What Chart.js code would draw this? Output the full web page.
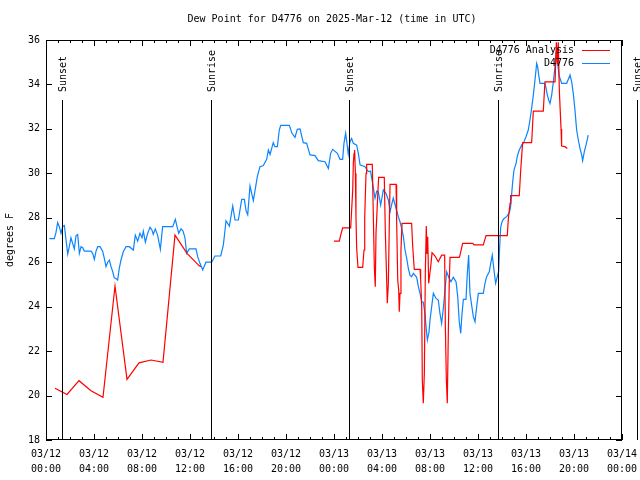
<!DOCTYPE html>
<html>
<head>
<meta charset="utf-8">
<title>Dew Point D4776</title>
<script src="https://cdn.jsdelivr.net/npm/chart.js@4.4.1/dist/chart.umd.min.js"></script>
<style>
  html, body { margin: 0; padding: 0; background: #fff; }
  #wrap { width: 640px; height: 480px; }
</style>
</head>
<body>
<div id="wrap"><canvas id="dewGraph" width="640" height="480"></canvas></div>
<script>
// time is hours since 03/12 00:00 UTC

// D4776 observations
var obsHours = [0.28, 0.69, 0.83, 0.97, 1.11, 1.25, 1.39, 1.53, 1.67, 1.81, 1.94, 2.08, 2.22, 2.36, 2.5, 2.64, 2.78, 2.92, 3.06, 3.19,
    3.75, 3.89, 4.03, 4.17, 4.31, 4.5, 4.72, 4.86, 5.0, 5.14, 5.28, 5.42, 5.56, 5.69, 5.83, 5.97, 6.11, 6.25, 6.44, 6.67,
    6.94, 7.28, 7.44, 7.64, 7.83, 8.0, 8.11, 8.28, 8.47, 8.67, 8.83, 8.94, 9.11, 9.31, 9.53, 9.72, 10.56, 10.78, 10.92, 11.06,
    11.25, 11.42, 11.58, 11.72, 11.94, 12.5, 12.64, 12.83, 13.06, 13.33, 13.81, 14.08, 14.56, 14.78, 14.92, 15.0, 15.28, 15.56, 15.75, 16.03,
    16.31, 16.53, 16.67, 16.81, 17.0, 17.28, 17.61, 17.83, 18.11, 18.39, 18.53, 18.67, 18.94, 19.08, 19.28, 19.44, 19.56, 20.28, 20.5, 20.75,
    20.94, 21.17, 21.44, 21.72, 22.0, 22.42, 22.69, 23.25, 23.53, 23.72, 23.89, 24.28, 24.5, 24.72, 24.83, 24.97, 25.08, 25.19, 25.33, 25.47,
    25.61, 25.89, 26.03, 26.17, 26.58, 26.86, 27.04, 27.22, 27.42, 27.56, 27.69, 27.89, 28.11, 28.33, 28.53, 28.67, 28.81, 28.94, 29.17, 29.36,
    29.5, 29.64, 29.78, 29.92, 30.06, 30.19, 30.33, 30.47, 30.61, 30.89, 31.03, 31.17, 31.31, 31.44, 31.58, 31.67, 31.78, 31.92, 32.0, 32.14,
    32.28, 32.5, 32.69, 32.83, 32.97, 33.11, 33.25, 33.39, 33.58, 33.75, 33.94, 34.17, 34.31, 34.44, 34.56, 34.67, 34.78, 35.0, 35.11, 35.22,
    35.33, 35.47, 35.61, 35.75, 35.89, 36.03, 36.44, 36.58, 36.72, 36.94, 37.06, 37.19, 37.33, 37.47, 37.61, 37.72, 37.78, 37.89, 38.0, 38.17,
    38.39, 38.61, 38.72, 38.81, 38.89, 39.0, 39.17, 39.28, 39.44, 39.64, 39.83, 40.0, 40.19, 40.33, 40.47, 40.61, 40.75, 40.89, 40.97, 41.08,
    41.17, 41.58, 41.67, 41.78, 41.89, 42.0, 42.14, 42.28, 42.42, 42.5, 42.61, 42.75, 42.97, 43.39, 43.53, 43.67, 43.81, 43.94, 44.08, 44.22,
    44.36, 44.5, 44.64, 44.72, 44.86, 45.0, 45.19];
var obsValues = [27.06, 27.06, 27.33, 27.78, 27.6, 27.3, 27.6, 27.65, 27.0, 26.37, 26.7, 27.1, 26.85, 26.6, 27.2, 27.25, 26.4, 26.7, 26.65, 26.5,
    26.5, 26.4, 26.13, 26.5, 26.7, 26.7, 26.5, 26.17, 25.8, 26.0, 26.1, 25.8, 25.57, 25.3, 25.27, 25.2, 25.73, 26.1, 26.47, 26.7,
    26.7, 26.55, 27.22, 26.95, 27.3, 27.1, 27.4, 26.9, 27.3, 27.57, 27.45, 27.25, 27.5, 27.2, 26.58, 27.6, 27.6, 27.93, 27.6, 27.3,
    27.5, 27.4, 27.1, 26.4, 26.6, 26.6, 26.25, 25.95, 25.65, 26.0, 26.0, 26.28, 26.28, 26.78, 27.45, 27.87, 27.63, 28.53, 27.9, 27.9,
    28.83, 28.83, 28.32, 28.14, 29.43, 28.77, 29.85, 30.3, 30.35, 30.63, 31.05, 30.85, 31.38, 31.2, 31.2, 31.95, 32.16, 32.16, 31.8, 31.62,
    31.98, 32.0, 31.38, 31.35, 30.83, 30.8, 30.57, 30.52, 30.22, 30.9, 31.08, 30.9, 30.63, 30.63, 31.35, 31.8, 31.35, 30.87, 31.42, 31.57,
    31.35, 31.27, 30.9, 30.38, 30.3, 30.08, 30.1, 29.55, 28.88, 29.2, 29.17, 28.57, 29.25, 29.1, 28.8, 28.27, 28.6, 28.88, 28.43, 28.05,
    27.82, 27.52, 27.15, 26.55, 26.17, 25.73, 25.42, 25.35, 25.5, 25.32, 24.9, 24.6, 24.22, 24.2, 23.7, 23.1, 22.5, 22.87, 23.4, 24.0,
    24.6, 24.37, 24.3, 23.7, 23.25, 23.92, 24.75, 25.57, 25.3, 25.12, 25.32, 25.12, 24.45, 23.32, 22.8, 23.7, 24.33, 24.33, 25.5, 26.32,
    24.6, 24.07, 23.55, 23.32, 24.0, 24.6, 24.6, 25.05, 25.35, 25.57, 25.95, 26.32, 25.65, 25.05, 25.35, 25.57, 26.4, 27.57, 27.82, 27.97,
    28.05, 28.23, 28.5, 29.1, 29.62, 30.15, 30.45, 30.78, 31.05, 31.27, 31.42, 31.65, 31.95, 32.4, 32.92, 33.52, 34.2, 34.95, 34.8, 34.35,
    34.05, 34.05, 33.83, 33.52, 33.3, 33.15, 33.52, 34.12, 34.8, 35.33, 35.1, 34.42, 34.05, 34.05, 34.23, 34.42, 34.1, 33.6, 32.85, 31.95,
    31.5, 31.12, 30.83, 30.57, 30.98, 31.27, 31.72];

// D4776 Analysis (null = no analysis)
var anlHours = [0.75, 1.75, 2.75, 3.75, 4.75, 5.75, 6.75, 7.75, 8.75, 9.75, 10.75, 11.75, 12.75, 12.9,
    18,
    24.0, 24.44, 24.56, 24.72, 25.39, 25.47, 25.56, 25.61, 25.67, 25.72, 25.78, 25.83, 25.89, 26.0, 26.39, 26.5, 26.56, 26.67, 26.72, 27.19,
    27.28, 27.36, 27.44, 27.5, 27.64, 27.72, 28.19, 28.28, 28.39, 28.44, 28.53, 28.61, 28.67, 29.17, 29.22, 29.31, 29.39, 29.44, 29.5, 29.58,
    29.67, 30.47, 30.56, 30.69, 31.17, 31.22, 31.31, 31.36, 31.44, 31.53, 31.61, 31.69, 31.75, 31.81, 31.89, 31.97, 32.06, 32.17, 32.42, 32.69,
    32.97, 33.22, 33.28, 33.36, 33.44, 33.53, 33.61, 33.67, 34.44, 34.5, 34.72, 35.56, 35.67, 36.44, 36.67, 38.44, 38.53, 38.67, 38.72, 39.44,
    39.56, 39.72, 40.47, 40.61, 41.44, 41.58, 42.42, 42.53, 42.61, 42.69, 42.78, 42.92, 42.97, 43.25, 43.44];
var anlValues = [20.33, 20.05, 20.67, 20.22, 19.92, 24.93, 20.73, 21.47, 21.6, 21.5, 27.22, 26.4, 25.85, 25.8,
    null,
    26.95, 26.95, 27.22, 27.55, 27.55, 28.35, 29.25, 30.45, 30.9, 31.05, 30.0, 28.05, 26.62, 25.77, 25.77, 26.55, 28.05, 30.0, 30.4, 30.4,
    28.05, 25.8, 24.9, 27.3, 28.95, 29.82, 29.82, 27.3, 25.2, 24.15, 25.05, 27.75, 29.5, 29.5, 27.9, 25.2, 24.75, 23.77, 24.6, 26.55,
    27.75, 27.75, 26.7, 25.68, 25.68, 25.23, 24.0, 20.7, 19.65, 21.0, 25.5, 27.63, 26.4, 27.15, 25.05, 25.42, 25.8, 26.43, 26.28, 26.02,
    26.32, 26.32, 23.1, 20.77, 19.65, 22.95, 25.2, 26.22, 26.22, 26.32, 26.85, 26.85, 26.78, 26.78, 27.2, 27.2, 27.97, 28.65, 29.0, 29.0,
    30.15, 31.38, 31.38, 32.8, 32.8, 34.12, 34.12, 35.9, 34.9, 35.9, 33.7, 32.0, 31.23, 31.2, 31.12];

// sunrise / sunset markers
var sunHours = [1.33, 13.75, 25.25, 37.67, 49.27];
var sunLabels = ['Sunset', 'Sunrise', 'Sunset', 'Sunrise', 'Sunset'];

var yTicks = [18, 20, 22, 24, 26, 28, 30, 32, 34, 36];
var dayLabels = ['03/12', '03/13', '03/14'];

var FONT = "'DejaVu Sans Mono', 'Liberation Mono', monospace";

function toPoints(hours, values) {
    var pts = [];
    for (var i = 0; i < hours.length; i++) {
        pts.push({x: hours[i], y: values[i]});
    }
    return pts;
}

function pad2(n) {
    return (n < 10 ? '0' : '') + n;
}

// gnuplot-like extras: box, inward ticks, sun lines, title, legend
const gnuplotBits = {
    id: 'gnuplotBits',
    afterDatasetsDraw(chart) {
        const ctx = chart.ctx;
        const area = chart.chartArea;
        const xs = chart.scales.x;
        const ys = chart.scales.y;
        ctx.save();
        ctx.strokeStyle = '#000';
        ctx.lineWidth = 1;

        // plot box
        ctx.strokeRect(Math.round(area.left) + 0.5, Math.round(area.top) + 0.5,
            Math.round(area.right - area.left) - 1, Math.round(area.bottom - area.top) - 1);

        // y ticks on both sides
        ctx.beginPath();
        for (var i = 0; i < yTicks.length; i++) {
            var py = Math.round(ys.getPixelForValue(yTicks[i])) + 0.5;
            ctx.moveTo(area.left, py); ctx.lineTo(area.left + 6, py);
            ctx.moveTo(area.right, py); ctx.lineTo(area.right - 6, py);
        }
        // x ticks every hour, longer every 4 hours
        for (var h = 0; h <= 48; h++) {
            var px = Math.round(xs.getPixelForValue(h)) + 0.5;
            var len = (h % 4 == 0) ? 6 : 3;
            ctx.moveTo(px, area.bottom); ctx.lineTo(px, area.bottom - len);
            ctx.moveTo(px, area.top); ctx.lineTo(px, area.top + len);
        }
        ctx.stroke();

        // sunrise / sunset lines
        ctx.font = '10px ' + FONT;
        ctx.fillStyle = '#000';
        for (var k = 0; k < sunHours.length; k++) {
            var sx = Math.round(xs.getPixelForValue(sunHours[k])) + 0.5;
            ctx.beginPath();
            ctx.moveTo(sx, 100);
            ctx.lineTo(sx, area.bottom);
            ctx.stroke();
            ctx.save();
            ctx.translate(sx + 1, 92);
            ctx.rotate(-Math.PI / 2);
            ctx.textAlign = 'left';
            ctx.textBaseline = 'middle';
            ctx.fillText(sunLabels[k], 0, 0);
            ctx.restore();
        }

        // title
        ctx.textAlign = 'center';
        ctx.textBaseline = 'middle';
        ctx.fillText('Dew Point for D4776 on 2025-Mar-12 (time in UTC)', 332, 19);

        // legend
        var ds = chart.data.datasets;
        for (var j = 0; j < ds.length; j++) {
            var ly = 49.5 + j * 13;
            ctx.textAlign = 'right';
            ctx.fillStyle = '#000';
            ctx.fillText(ds[j].label, 574, ly + 1);
            ctx.strokeStyle = ds[j].borderColor;
            ctx.beginPath();
            ctx.moveTo(582, Math.round(ly) + 0.5);
            ctx.lineTo(610, Math.round(ly) + 0.5);
            ctx.stroke();
        }
        ctx.restore();
    }
};

const ctx1 = document.getElementById('dewGraph').getContext('2d');
const dewGraph = new Chart(ctx1, {
    type: 'line',
    data: {
        datasets: [
            {
                label: 'D4776 Analysis',
                data: toPoints(anlHours, anlValues),
                borderColor: '#ff0000',
                borderWidth: 1.2,
                pointRadius: 0,
                tension: 0,
                spanGaps: false,
            },
            {
                label: 'D4776',
                data: toPoints(obsHours, obsValues),
                borderColor: '#0a84ff',
                borderWidth: 1.2,
                pointRadius: 0,
                tension: 0,
            }
        ]
    },
    options: {
        responsive: false,
        animation: false,
        events: [],
        layout: {
            padding: {left: 0, right: 18, top: 40, bottom: 0}
        },
        plugins: {
            legend: {display: false},
            title: {display: false},
            tooltip: {enabled: false},
        },
        scales: {
            x: {
                type: 'linear',
                min: 0,
                max: 48,
                afterFit: function(s) {
                    s.height = 40;
                    s.paddingLeft = 0;
                    s.paddingRight = 0;
                },
                grid: {display: false, drawTicks: false},
                border: {display: false},
                ticks: {
                    stepSize: 4,
                    autoSkip: false,
                    maxRotation: 0,
                    padding: 7,
                    color: '#000',
                    font: {family: FONT, size: 10, lineHeight: 1.5},
                    callback: function(v) {
                        return [dayLabels[Math.floor(v / 24)], pad2(v % 24) + ':00'];
                    }
                }
            },
            y: {
                min: 18,
                max: 36,
                afterFit: function(s) {
                    s.width = 46;
                    s.paddingTop = 0;
                    s.paddingBottom = 0;
                },
                grid: {display: false, drawTicks: false},
                border: {display: false},
                title: {
                    display: true,
                    text: 'degrees F',
                    color: '#000',
                    padding: 4,
                    font: {family: FONT, size: 10}
                },
                ticks: {
                    stepSize: 2,
                    padding: 6,
                    color: '#000',
                    font: {family: FONT, size: 10}
                }
            }
        }
    },
    plugins: [gnuplotBits]
});
</script>
</body>
</html>
